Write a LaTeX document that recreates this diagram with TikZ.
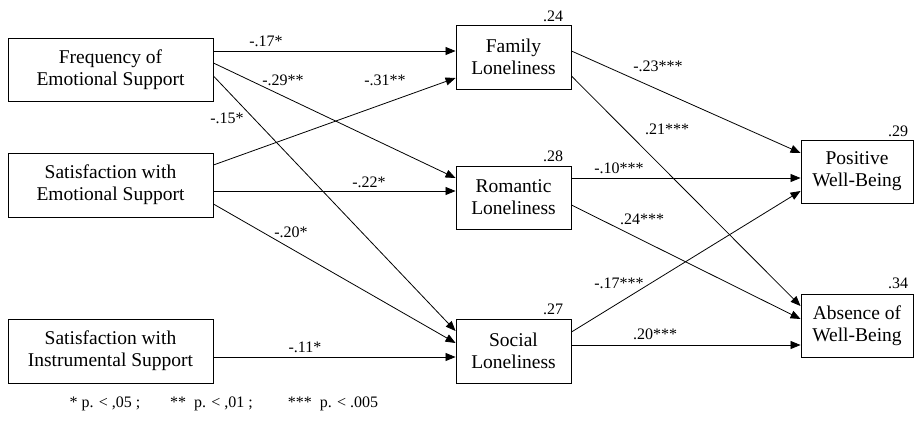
\documentclass[tikz,border=0pt]{standalone}
\usepackage{fontspec}
\setmainfont{Liberation Serif}
\usetikzlibrary{arrows.meta}
\begin{document}
\begin{tikzpicture}[x=1pt,y=-1pt,
  box/.style={draw,line width=0.9pt,align=center,inner sep=0pt,font=\fontsize{19.5}{22}\selectfont},
  lab/.style={inner sep=0pt,font=\fontsize{16}{18}\selectfont},
  arr/.style={line width=0.8pt,-{Triangle[length=10pt,width=8pt]}}]
\useasboundingbox (0,0) rectangle (914,421);
% left column
\node[box,minimum width=205pt,minimum height=63pt] (freq) at (110.5,69.5) {Frequency of\\Emotional Support};
\node[box,minimum width=205pt,minimum height=64pt] (semo) at (110.5,185) {Satisfaction with\\Emotional Support};
\node[box,minimum width=205pt,minimum height=64pt] (sins) at (110.5,351) {Satisfaction with\\Instrumental Support};
% middle column
\node[box,minimum width=115pt,minimum height=64pt] (fam) at (513.5,57) {Family\\Loneliness};
\node[box,minimum width=115pt,minimum height=63pt] (rom) at (513.5,197.5) {Romantic\\Loneliness};
\node[box,minimum width=115pt,minimum height=64pt] (soc) at (513.5,351) {Social\\Loneliness};
% right column
\node[box,minimum width=112pt,minimum height=63pt] (pos) at (857,171.5) {Positive\\Well-Being};
\node[box,minimum width=112pt,minimum height=63pt] (abs) at (857,325.5) {Absence of\\Well-Being};
% R squared
\node[lab] (r1) at (553,16) {.24};
\node[lab] (r2) at (553,156) {.28};
\node[lab] (r3) at (553,309) {.27};
\node[lab] (r4) at (898,131) {.29};
\node[lab] (r5) at (898,283) {.34};
% arrows from predictors
\draw[arr] (freq.east |- 0,51) -- (fam.west |- 0,51);
\draw[arr] (freq.east |- 0,63) -- (rom.west |- 0,178);
\draw[arr] (freq.east |- 0,76) -- (soc.west |- 0,331);
\draw[arr] (semo.east |- 0,165) -- (fam.west |- 0,78);
\draw[arr] (semo.east |- 0,191) -- (rom.west |- 0,191);
\draw[arr] (semo.east |- 0,204) -- (soc.west |- 0,343);
\draw[arr] (sins.east |- 0,357) -- (soc.west |- 0,357);
% arrows to outcomes
\draw[arr] (fam.east |- 0,51) -- (pos.west |- 0,153);
\draw[arr] (fam.east |- 0,76) -- (abs.west |- 0,306);
\draw[arr] (rom.east |- 0,178) -- (pos.west |- 0,178);
\draw[arr] (rom.east |- 0,205) -- (abs.west |- 0,319);
\draw[arr] (soc.east |- 0,332) -- (pos.west |- 0,191);
\draw[arr] (soc.east |- 0,345) -- (abs.west |- 0,345);
% path labels
\node[lab] (l1) at (266,41) {-.17*};
\node[lab] (l2) at (283,80) {-.29**};
\node[lab] (l3) at (385,80) {-.31**};
\node[lab] (l4) at (227,118) {-.15*};
\node[lab] (l5) at (369,182) {-.22*};
\node[lab] (l6) at (291,232) {-.20*};
\node[lab] (l7) at (305,347) {-.11*};
\node[lab] (l8) at (658,66) {-.23***};
\node[lab] (l9) at (667,129) {.21***};
\node[lab] (l10) at (619,168) {-.10***};
\node[lab] (l11) at (642,219) {.24***};
\node[lab] (l12) at (619,283) {-.17***};
\node[lab] (l13) at (655,334) {.20***};
% footnote
\node[lab] (fn1) at (105,404) {* p. < ,05 ;};
\node[lab] (fn2) at (211.5,404) {** \ p. < ,01 ;};
\node[lab] (fn3) at (333,404) {*** \ p. < .005};
\end{tikzpicture}
\end{document}
